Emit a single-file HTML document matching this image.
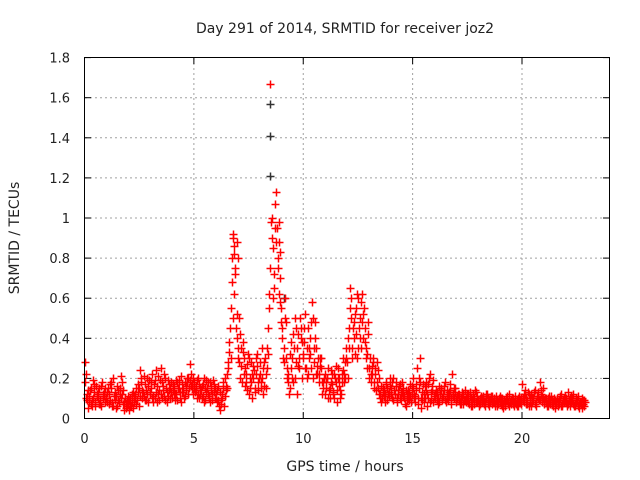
<!DOCTYPE html>
<html><head><meta charset="utf-8"><style>
html,body{margin:0;padding:0;background:#fff;}
svg{display:block;font-family:"DejaVu Sans","Liberation Sans",sans-serif;}
</style></head><body>
<svg id="chart" width="640" height="480" viewBox="0 0 640 480" xmlns="http://www.w3.org/2000/svg">
<rect x="0" y="0" width="640" height="480" fill="#fff"/>
<text x="345" y="33" font-size="14" text-anchor="middle" fill="#222">Day 291 of 2014, SRMTID for receiver joz2</text>
<text transform="translate(19,238) rotate(-90)" font-size="14" text-anchor="middle" fill="#222">SRMTID / TECUs</text>
<text x="345" y="471" font-size="14" text-anchor="middle" fill="#222">GPS time / hours</text>
<g id="grid"></g><g id="ticks"></g><g id="black"></g><g id="red"></g>
<rect x="84.5" y="57.5" width="525" height="361" fill="none" stroke="#000" stroke-width="1"/>
</svg>
<script>
const xTicks=[0,5,10,15,20];
const yTicks=[0,0.2,0.4,0.6,0.8,1,1.2,1.4,1.6,1.8];
const yTickLabels=["0","0.2","0.4","0.6","0.8","1","1.2","1.4","1.6","1.8"];
const step=0.1;
const redA=[0.28,0.12,0.08,0.15,0.10,0.06,0.13,0.09,0.18,0.11,
0.10,0.07,0.15,0.20,0.09,0.06,0.12,0.18,0.08,0.05,
0.07,0.10,0.05,0.12,0.09,0.15,0.20,0.11,0.14,0.08,
0.13,0.22,0.10,0.16,0.09,0.25,0.14,0.20,0.11,0.15,
0.10,0.16,0.12,0.19,0.08,0.15,0.11,0.18,0.27,0.15,
0.18,0.14,0.20,0.12,0.17,0.09,0.15,0.11,0.16,0.13,
0.10,0.16,0.04,0.12,0.20,0.15,0.33,0.55,0.90,0.75,
0.35,0.42,0.18,0.30,0.22,0.12,0.28,0.20,0.15,0.32,
0.22,0.35,0.28,0.15,0.45,1.67,0.85,1.07,0.95,0.88,
0.55,0.35,0.48,0.22,0.15,0.30,0.50,0.12,0.25,0.45,
0.30,0.52,0.22,0.40,0.58,0.28,0.35,0.18,0.25,0.15,
0.12,0.20,0.15,0.22,0.10,0.18,0.25,0.14,0.30,0.20,
0.28,0.45,0.60,0.40,0.55,0.35,0.50,0.62,0.38,0.25,
0.25,0.18,0.30,0.22,0.15,0.12,0.10,0.14,0.18,0.11,
0.15,0.20,0.12,0.08,0.17,0.13,0.10,0.06,0.14,0.11,
0.20,0.08,0.25,0.15,0.05,0.12,0.18,0.10,0.22,0.14,
0.10,0.13,0.08,0.15,0.11,0.18,0.09,0.14,0.22,0.10,
0.08,0.12,0.10,0.07,0.14,0.09,0.11,0.06,0.10,0.13,
0.09,0.07,0.11,0.08,0.12,0.06,0.10,0.08,0.09,0.07,
0.08,0.10,0.06,0.09,0.12,0.07,0.10,0.08,0.06,0.09,
0.17,0.08,0.10,0.06,0.12,0.09,0.14,0.11,0.18,0.08,
0.07,0.10,0.06,0.09,0.08,0.05,0.10,0.07,0.12,0.08,
0.08,0.13,0.06,0.10,0.07,0.09,0.05,0.08,0.07];
const redB=[0.22,0.05,0.14,0.09,0.17,0.12,0.07,0.16,0.10,0.08,
0.13,0.17,0.08,0.11,0.05,0.14,0.21,0.07,0.10,0.06,
0.04,0.08,0.11,0.07,0.13,0.24,0.10,0.17,0.12,0.19,
0.18,0.08,0.24,0.12,0.19,0.10,0.22,0.08,0.17,0.13,
0.14,0.09,0.18,0.13,0.17,0.10,0.14,0.20,0.22,0.12,
0.13,0.19,0.10,0.16,0.08,0.19,0.12,0.18,0.09,0.15,
0.14,0.06,0.09,0.18,0.14,0.28,0.45,0.80,0.62,0.52,
0.50,0.26,0.38,0.16,0.27,0.20,0.10,0.24,0.30,0.18,
0.18,0.12,0.30,0.25,0.62,1.00,0.72,1.13,0.80,0.70,
0.40,0.60,0.20,0.12,0.38,0.18,0.28,0.42,0.50,0.20,
0.45,0.20,0.35,0.25,0.50,0.40,0.22,0.30,0.12,0.20,
0.18,0.10,0.24,0.13,0.20,0.08,0.16,0.22,0.18,0.35,
0.20,0.65,0.35,0.52,0.30,0.45,0.58,0.40,0.30,0.48,
0.30,0.22,0.15,0.28,0.20,0.08,0.15,0.12,0.09,0.16,
0.10,0.14,0.18,0.12,0.09,0.15,0.07,0.12,0.09,0.16,
0.12,0.17,0.10,0.30,0.09,0.16,0.06,0.20,0.13,0.08,
0.14,0.07,0.12,0.09,0.16,0.10,0.13,0.07,0.12,0.15,
0.11,0.07,0.13,0.09,0.08,0.12,0.06,0.10,0.14,0.08,
0.06,0.10,0.08,0.12,0.07,0.09,0.11,0.07,0.06,0.10,
0.07,0.05,0.09,0.07,0.08,0.10,0.06,0.09,0.11,0.07,
0.09,0.12,0.07,0.10,0.08,0.13,0.06,0.10,0.12,0.15,
0.10,0.06,0.11,0.07,0.09,0.08,0.06,0.10,0.07,0.09,
0.06,0.09,0.11,0.07,0.10,0.06,0.08,0.05,0.09];
const redC=[0.18,0.09,0.11,0.06,0.13,0.16,0.10,0.07,0.12,0.15,
0.08,0.12,0.18,0.06,0.11,0.09,0.15,0.12,0.04,0.09,
0.09,0.06,0.13,0.10,0.17,0.11,0.14,0.21,0.09,0.16,
0.15,0.11,0.19,0.08,0.14,0.18,0.11,0.15,0.19,0.10,
0.17,0.12,0.09,0.15,0.21,0.13,0.16,0.12,0.19,0.17,
0.15,0.10,0.17,0.14,0.11,0.15,0.18,0.08,0.12,0.17,
0.12,0.09,0.07,0.15,0.11,0.22,0.38,0.68,0.82,0.45,
0.30,0.20,0.33,0.25,0.14,0.30,0.18,0.26,0.22,0.14,
0.28,0.20,0.16,0.35,0.55,0.98,0.60,0.95,0.75,0.58,
0.45,0.28,0.30,0.18,0.25,0.42,0.20,0.35,0.30,0.38,
0.38,0.25,0.45,0.32,0.20,0.48,0.26,0.22,0.30,0.18,
0.15,0.25,0.10,0.17,0.22,0.14,0.20,0.12,0.24,0.28,
0.40,0.55,0.30,0.48,0.42,0.60,0.35,0.52,0.45,0.32,
0.20,0.26,0.18,0.14,0.24,0.10,0.13,0.08,0.15,0.13,
0.12,0.09,0.16,0.14,0.10,0.18,0.11,0.09,0.13,0.08,
0.15,0.11,0.07,0.18,0.13,0.08,0.14,0.17,0.09,0.19,
0.12,0.09,0.16,0.10,0.14,0.08,0.12,0.17,0.11,0.13,
0.10,0.09,0.07,0.12,0.10,0.08,0.13,0.09,0.07,0.11,
0.07,0.11,0.09,0.06,0.10,0.08,0.07,0.10,0.11,0.08,
0.10,0.07,0.08,0.11,0.06,0.09,0.08,0.07,0.10,0.08,
0.10,0.14,0.09,0.12,0.06,0.10,0.08,0.13,0.09,0.11,
0.09,0.07,0.08,0.11,0.06,0.09,0.08,0.11,0.06,0.10,
0.10,0.07,0.08,0.12,0.06,0.09,0.07,0.10,0.06];
const redD=[0.10,0.14,0.07,0.19,0.08,0.11,0.15,0.06,0.13,0.10,
0.15,0.09,0.06,0.13,0.16,0.08,0.10,0.14,0.07,0.11,
0.06,0.12,0.08,0.15,0.06,0.18,0.13,0.09,0.20,0.12,
0.10,0.17,0.13,0.21,0.12,0.16,0.09,0.13,0.14,0.18,
0.12,0.19,0.15,0.10,0.13,0.18,0.20,0.15,0.16,0.20,
0.16,0.12,0.15,0.10,0.20,0.13,0.10,0.14,0.19,0.10,
0.08,0.13,0.10,0.06,0.16,0.25,0.30,0.50,0.72,0.40,
0.28,0.35,0.22,0.18,0.32,0.15,0.22,0.13,0.26,0.20,
0.15,0.25,0.22,0.32,0.75,0.90,0.65,0.88,0.62,0.48,
0.30,0.50,0.25,0.32,0.20,0.35,0.45,0.26,0.40,0.32,
0.25,0.35,0.30,0.48,0.35,0.22,0.30,0.26,0.18,0.22,
0.20,0.14,0.18,0.12,0.26,0.20,0.10,0.18,0.22,0.30,
0.35,0.50,0.45,0.32,0.62,0.40,0.48,0.55,0.35,0.42,
0.22,0.28,0.25,0.18,0.12,0.16,0.11,0.17,0.12,0.20,
0.18,0.12,0.10,0.16,0.13,0.11,0.14,0.10,0.17,0.12,
0.10,0.14,0.20,0.10,0.17,0.10,0.12,0.08,0.16,0.11,
0.13,0.10,0.14,0.12,0.09,0.14,0.11,0.10,0.15,0.09,
0.12,0.08,0.11,0.09,0.12,0.07,0.10,0.12,0.08,0.09,
0.10,0.08,0.07,0.10,0.09,0.11,0.08,0.06,0.09,0.11,
0.06,0.09,0.10,0.08,0.09,0.07,0.11,0.06,0.08,0.10,
0.12,0.07,0.13,0.08,0.10,0.07,0.11,0.09,0.14,0.10,
0.08,0.10,0.07,0.09,0.10,0.07,0.09,0.06,0.09,0.11,
0.07,0.10,0.09,0.06,0.08,0.11,0.07,0.09,0.08];
const peakTimes=[8.9,8.95,6.85,6.95,6.8,7.0];
const peakValues=[0.98,0.83,0.86,0.88,0.92,0.80];
const blackTimes=[8.5,8.5,8.5,9.1];
const blackValues=[1.57,1.41,1.21,0.60];

const X0=84.5,PX=21.875,Y0=418.5,PY=200.5;
const sx=t=>X0+t*PX, sy=v=>Y0-v*PY;
const NS='http://www.w3.org/2000/svg';
function mk(tag,attrs,parent){const e=document.createElementNS(NS,tag);for(const k in attrs)e.setAttribute(k,attrs[k]);parent.appendChild(e);return e;}
const grid=document.getElementById('grid'),ticks=document.getElementById('ticks');
xTicks.forEach((t,i)=>{
  const x=sx(t);
  if(i>0){const g=mk('line',{x1:x,x2:x,y1:58,y2:418,stroke:'#a0a0a0','stroke-dasharray':'2,3'},grid);
  
  }
  mk('line',{x1:x,x2:x,y1:418.5,y2:412,stroke:'#000'},ticks);
  mk('line',{x1:x,x2:x,y1:57.5,y2:64,stroke:'#000'},ticks);
  const l=mk('text',{x:x,y:443,'font-size':13,'text-anchor':'middle',fill:'#222'},ticks);
  l.textContent=String(t);
  
  
});
yTicks.forEach((v,i)=>{
  const y=sy(v);
  if(i>0&&i<yTicks.length-1){const g=mk('line',{x1:85,x2:609,y1:y,y2:y,stroke:'#a0a0a0','stroke-dasharray':'2,3'},grid);
  
  }
  mk('line',{x1:84.5,x2:91,y1:y,y2:y,stroke:'#000'},ticks);
  mk('line',{x1:609.5,x2:603,y1:y,y2:y,stroke:'#000'},ticks);
  const l=mk('text',{x:70,y:y+5,'font-size':13,'text-anchor':'end',fill:'#222'},ticks);
  l.textContent=yTickLabels[i];
  
  
});
function plus(g,t,v,col){
  const x=Math.round(sx(t))+0.5,y=Math.round(sy(v))+0.5;
  const p=mk('path',{d:`M${x-4} ${y}H${x+4}M${x} ${y-4}V${y+4}`,stroke:col,'stroke-width':1.5,fill:'none'},g);
  
  
}
const red=document.getElementById('red'),black=document.getElementById('black');
blackTimes.forEach((t,i)=>plus(black,t,blackValues[i],'#333'));
redA.forEach((v,i)=>plus(red,i*step,v,'#ff0000'));
redB.forEach((v,i)=>plus(red,i*step+step/2,v,'#ff0000'));
redC.forEach((v,i)=>plus(red,i*step+step/4,v,'#ff0000'));
redD.forEach((v,i)=>plus(red,i*step+3*step/4,v,'#ff0000'));
peakTimes.forEach((t,i)=>plus(red,t,peakValues[i],'#ff0000'));
</script>
</body></html>
